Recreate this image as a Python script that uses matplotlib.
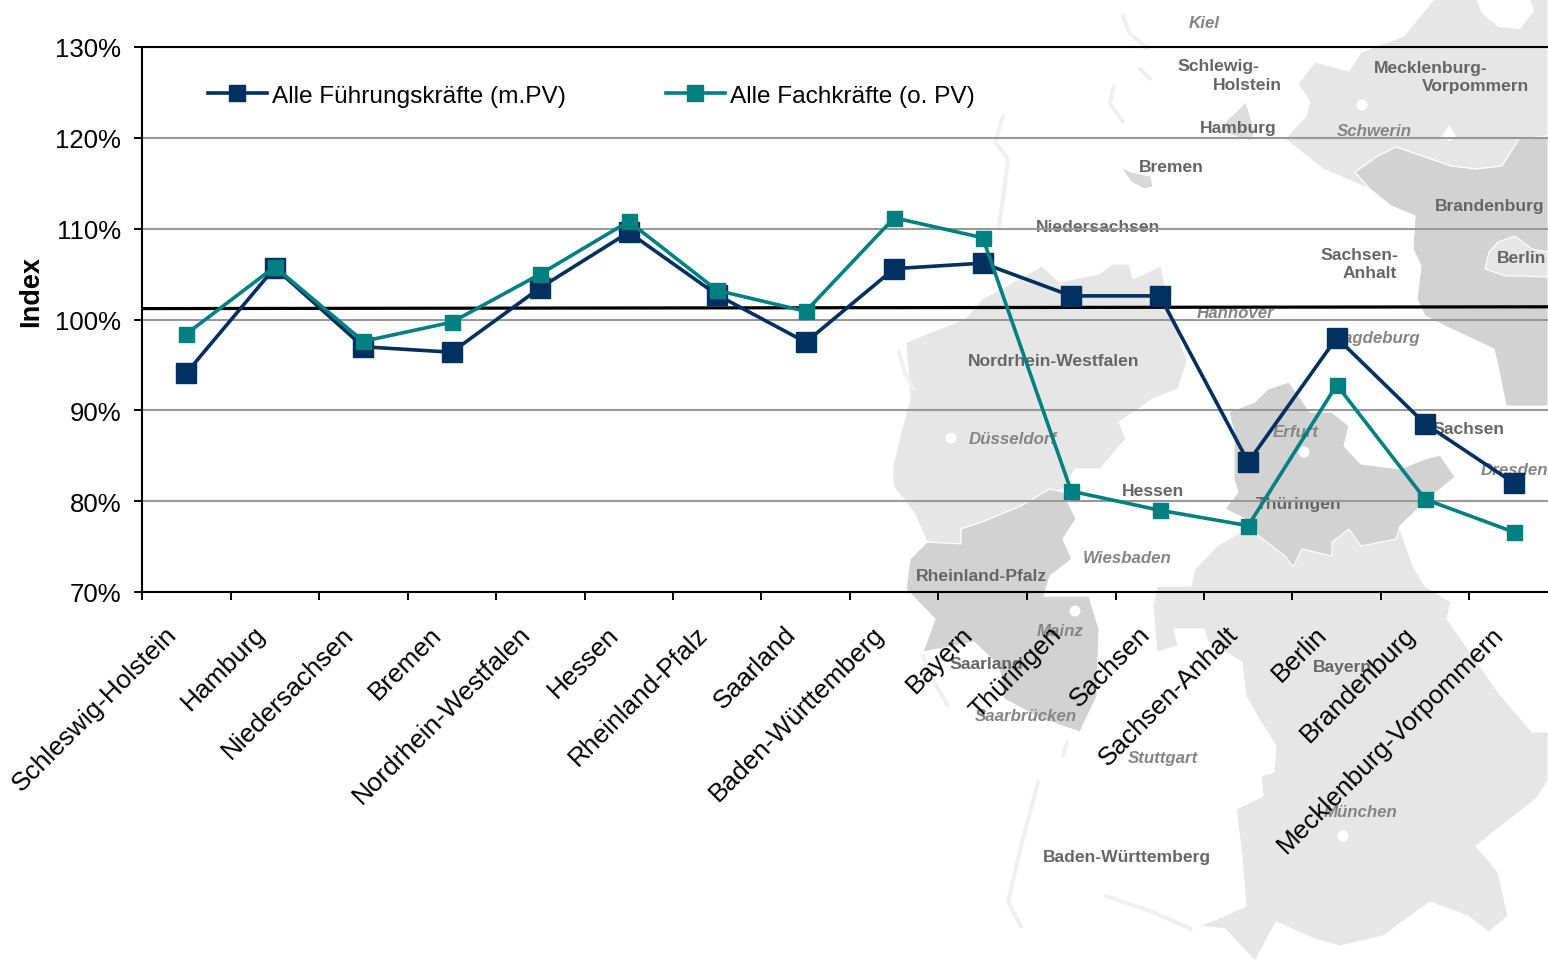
import matplotlib
matplotlib.use("Agg")
import matplotlib.pyplot as plt
from matplotlib.lines import Line2D
from matplotlib.patches import Polygon, Circle
from matplotlib.ticker import FuncFormatter
from matplotlib.transforms import ScaledTranslation

plt.rcParams['font.family'] = ['Liberation Sans', 'DejaVu Sans']

# Chart data
states = ["Schleswig-Holstein", "Hamburg", "Niedersachsen", "Bremen", "Nordrhein-Westfalen",
          "Hessen", "Rheinland-Pfalz", "Saarland", "Baden-Württemberg", "Bayern", "Thüringen",
          "Sachsen", "Sachsen-Anhalt", "Berlin", "Brandenburg", "Mecklenburg-Vorpommern"]
fuehrung = [94.1, 105.7, 97.0, 96.4, 103.5, 109.6, 102.7, 97.5, 105.6, 106.2, 102.6, 102.6,
            84.3, 98.0, 88.5, 82.0]
fachkraefte = [98.4, 105.8, 97.6, 99.7, 105.0, 110.8, 103.2, 100.9, 111.2, 109.0, 81.1, 79.0,
               77.3, 92.8, 80.2, 76.6]
reference_line = [101.2, 101.4]
y_ticks = [70, 80, 90, 100, 110, 120, 130]

NAVY = "#00305f"
TEAL = "#008080"
LIGHT = "#e6e6e6"
DARK = "#d2d2d2"

# Backdrop map of Germany, outlines in pixel coordinates of the canvas
nrw = [(906,343),(965,320),(982,300),(1010,285),(1042,267),(1059,283),(1099,275),(1112,265),(1129,265),(1133,280),
       (1161,267),(1170,307),(1187,363),(1178,390),(1153,400),(1119,423),(1126,440),(1100,470),(1075,470),
       (1063,490),(1021,507),(982,523),(961,530),(961,545),(927,543),(915,515),(893,487),(893,467),
       (901,433),(910,400)]
rlp = [(1063,493),(1076,520),(1063,540),(1072,560),(1050,577),(1044,597),(1089,597),(1099,630),(1097,697),
       (1080,733),(1042,720),(1004,700),(999,667),(974,643),(923,653),(935,620),(906,590),(910,560),
       (927,543),(961,545),(961,530),(982,523),(1021,507),(1050,490)]
mv = [(1298,85),(1315,63),(1349,72),(1361,53),(1404,37),(1434,0),(1548,0),(1548,137),(1519,140),(1502,167),
      (1476,170),(1451,167),(1396,148),(1378,157),(1355,173),(1370,190),(1323,170),(1285,140),(1306,117),(1310,103)]
brandenburg = [(1355,173),(1378,157),(1396,148),(1451,167),(1476,170),(1502,167),(1519,140),(1548,137),
               (1548,407),(1506,407),(1498,367),(1494,350),(1451,330),(1425,317),(1417,300),(1421,267),
               (1413,250),(1415,217),(1391,207),(1370,190)]
berlin = [(1489,253),(1498,243),(1515,237),(1532,250),(1548,253),(1548,278),(1519,277),(1506,277),(1485,270)]
hamburg = [(1221,127),(1246,103),(1255,133),(1251,142),(1221,133)]
bremen = [(1121,168),(1131,173),(1151,177),(1153,188),(1144,190),(1131,183)]
thueringen = [(1234,433),(1229,413),(1255,403),(1268,390),(1289,383),(1310,413),(1332,413),(1349,427),
              (1344,447),(1361,465),(1400,470),(1425,460),(1440,456),(1455,478),(1425,503),(1400,527),
              (1396,540),(1361,547),(1349,530),(1332,543),(1332,557),(1302,550),(1293,568),(1285,557),
              (1259,537),(1251,523),(1225,510),(1238,493),(1234,480)]
bayern = [(1217,547),(1246,530),(1400,530),(1413,567),(1425,587),(1451,603),(1447,620),(1498,693),(1532,733),
          (1548,733),(1548,782),(1536,800),(1476,847),(1498,873),(1508,917),(1489,933),(1468,917),(1430,903),
          (1383,937),(1340,947),(1315,940),(1276,923),(1255,962),(1225,930),(1200,927),(1217,920),(1246,907),
          (1242,857),(1236,810),(1263,797),(1261,777),(1274,773),(1276,747),(1259,720),(1246,697),(1242,663),
          (1208,643),(1204,630),(1174,630),(1178,647),(1157,653),(1153,607),(1157,587),(1191,587),(1195,570)]
baltic_inlet = [(1476,0),(1482,14),(1498,28),(1520,30),(1534,12),(1530,0)]
schwerin_lake = [(1442,137),(1449,126),(1456,137),(1450,142)]
map_regions = [(bayern, LIGHT), (nrw, LIGHT), (mv, LIGHT), (baltic_inlet, "white"), (schwerin_lake, "white"),
               (rlp, DARK), (brandenburg, DARK), (thueringen, DARK), (berlin, LIGHT),
               (hamburg, "#dcdcdc"), (bremen, "#d8d8d8")]
waterways = [[(1123,17),(1130,35),(1148,50)], [(1140,70),(1150,80)], [(1114,87),(1110,105),(1123,123)],
             [(1003,117),(995,143),(1008,160),(1003,200),(999,227)], [(899,353),(905,375),(914,390)],
             [(923,657),(935,685),(948,707)], [(1067,743),(1063,757)],
             [(1038,783),(1021,847),(1008,903),(1021,927)], [(1106,897),(1150,912),(1191,930)]]
city_dots = [(1362,106), (951,439), (1304,453), (1075,612), (1343,837)]
region_names = [("Schlewig-", 1218, 66), ("Holstein", 1247, 86), ("Mecklenburg-", 1431, 68),
                ("Vorpommern", 1475, 87), ("Hamburg", 1238, 129), ("Bremen", 1171, 168),
                ("Brandenburg", 1490, 206), ("Niedersachsen", 1098, 227), ("Sachsen-", 1359, 255),
                ("Anhalt", 1370, 274), ("Berlin", 1522, 259), ("Nordrhein-Westfalen", 1054, 362),
                ("Sachsen", 1468, 430), ("Hessen", 1153, 492), ("Thüringen", 1299, 505),
                ("Rheinland-Pfalz", 981, 577), ("Saarland", 986, 665), ("Bayern", 1342, 668),
                ("Baden-Württemberg", 1127, 858)]
capital_names = [("Kiel", 1204, 23), ("Schwerin", 1374, 131), ("Hannover", 1236, 314),
                 ("Magdeburg", 1375, 339), ("Düsseldorf", 1013, 440), ("Erfurt", 1296, 433),
                 ("Dresden", 1514, 471), ("Wiesbaden", 1127, 559), ("Mainz", 1060, 632),
                 ("Saarbrücken", 1026, 717), ("Stuttgart", 1163, 759), ("München", 1361, 813)]

W, H = 1548, 962
fig = plt.figure(figsize=(W / 100, H / 100), dpi=100, facecolor="white")

# Map layer beneath the chart
bg = fig.add_axes([0, 0, 1, 1], zorder=0)
bg.set_xlim(0, W)
bg.set_ylim(H, 0)
bg.axis("off")
for outline, colour in map_regions:
    edge = "none" if colour == "white" else "white"
    bg.add_patch(Polygon(outline, closed=True, facecolor=colour, edgecolor=edge, linewidth=0.8))
for path in waterways:
    bg.plot(*zip(*path), color="#f0f0f0", lw=3, solid_capstyle="round")
for cx, cy in city_dots:
    bg.add_patch(Circle((cx, cy), 5.5, facecolor="white", edgecolor="none"))
for name, x, y in region_names:
    bg.text(x, y, name, ha="center", va="center", fontsize=12.6, fontweight="bold", color="#666666")
for name, x, y in capital_names:
    bg.text(x, y, name, ha="center", va="center", fontsize=12.2, fontweight="bold", style="italic",
            color="#858585")

# Chart layer; the plot area runs slightly past the right canvas edge
left, right, top, bottom = 142, 1558, 48, 593
ax = fig.add_axes([left / W, 1 - bottom / H, (right - left) / W, (bottom - top) / H], zorder=1)
ax.patch.set_alpha(0)
positions = list(range(len(states)))
ax.set_xlim(-0.5, len(states) - 0.5)
ax.set_ylim(70, 130)

ax.yaxis.grid(True, color="#999999", lw=1.5, zorder=1)
ax.set_axisbelow(True)
ax.plot([-0.5, len(states) - 0.5], reference_line, color="black", lw=2.3, zorder=2)
ax.plot(positions, fuehrung, color=NAVY, lw=2.6, marker="s", ms=13.8, mec=NAVY, zorder=3)
ax.plot(positions, fachkraefte, color=TEAL, lw=2.6, marker="s", ms=10.8, mec=TEAL, zorder=4)

ax.set_yticks(y_ticks)
ax.yaxis.set_major_formatter(FuncFormatter(lambda v, _: f"{v:.0f}%"))
ax.tick_params(axis="y", labelsize=18.5, length=6, width=1.4, pad=9, color="black")
ax.set_xticks([p - 0.5 for p in positions])
ax.set_xticklabels([])
ax.tick_params(axis="x", which="major", length=6, width=1.4)
ax.set_xticks(positions, minor=True)
ax.set_xticklabels(states, minor=True, rotation=45, ha="right", va="top", rotation_mode="anchor", fontsize=18.9)
ax.tick_params(axis="x", which="minor", length=0, pad=21)
label_shift = ScaledTranslation(-22 / 100, 0, fig.dpi_scale_trans)
for label in ax.get_xticklabels(minor=True):
    label.set_transform(label.get_transform() + label_shift)

for side in ("left", "top", "bottom"):
    ax.spines[side].set_linewidth(1.5)
ax.spines["right"].set_visible(False)
ax.set_ylabel("Index", fontsize=19.5, fontweight="bold")
ax.yaxis.set_label_coords((44 - left) / (right - left), 1 - (292 - top) / (bottom - top))

handles = [Line2D([], [], color=NAVY, lw=2.6, marker="s", ms=11.5, mec=NAVY),
           Line2D([], [], color=TEAL, lw=2.6, marker="s", ms=11, mec=TEAL)]
ax.legend(handles, ["Alle Führungskräfte (m.PV)", "Alle Fachkräfte (o. PV)"], ncol=2, frameon=False,
          loc="center left", bbox_to_anchor=((208 - left) / (right - left), 1 - (97 - top) / (bottom - top)),
          borderpad=0, borderaxespad=0, fontsize=17.6, handlelength=2.4, handletextpad=0.22, columnspacing=4.1)

fig.savefig("out.png", dpi=100)
